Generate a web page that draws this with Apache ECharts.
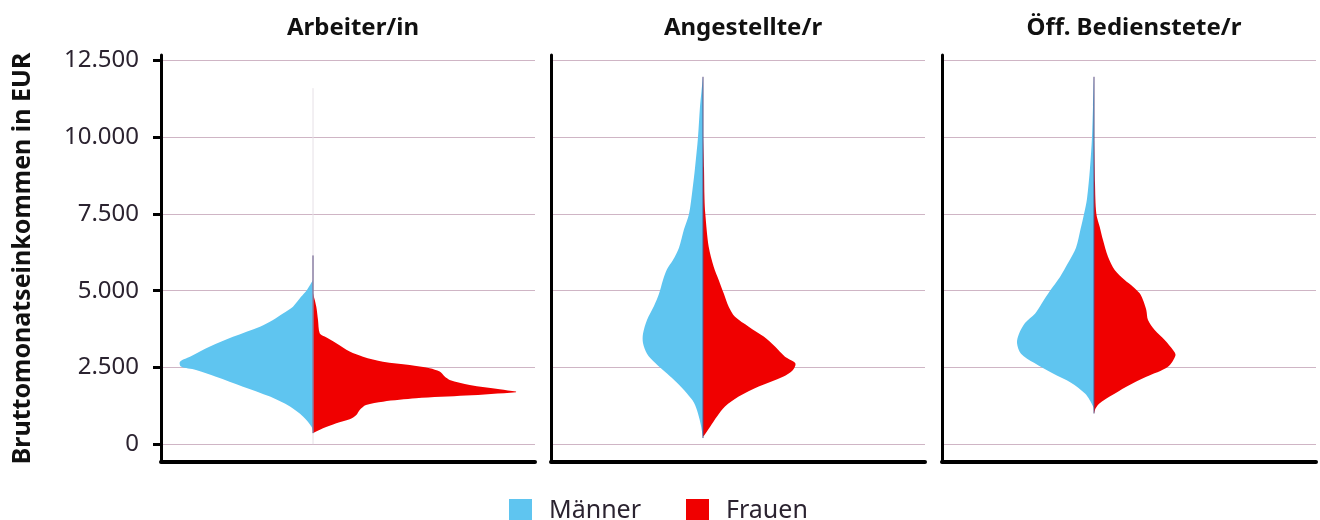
<!DOCTYPE html>
<html>
<head>
<meta charset="utf-8">
<script src="https://cdn.jsdelivr.net/npm/echarts@6.0.0/dist/echarts.min.js"></script>
<style>
html,body{margin:0;padding:0;background:#ffffff;}
#chart{width:1320px;height:520px;}
</style>
</head>
<body>
<div id="chart"></div>
<script>
// ---- data ----
const categories = ['Arbeiter/in', 'Angestellte/r', 'Öff. Bedienstete/r'];
const seriesNames = ['Männer', 'Frauen'];
const yTicks = [0, 2500, 5000, 7500, 10000, 12500];

// [Bruttomonatseinkommen EUR, half width of density]
const maennerArbeiter = [[5350,0],[5000,6.6],[4800,12],[4480,20],[4260,30],[4050,40],[3830,53],[3500,80],[3180,103],[2850,123],[2690,133],[2530,132],[2420,117],[2200,97],[1875,70],[1550,43],[1225,23],[900,10],[570,1.5],[420,0]];
const frauenArbeiter = [[4918,0],[4482,3.3],[4048,5],[3615,6.7],[3505,11.7],[3289,23.3],[3017,36.7],[2853,50],[2690,70],[2583,96.7],[2475,116.7],[2365,126.7],[2202,131.7],[2094,136.7],[1931,156.7],[1790,186.7],[1713,203],[1694,203],[1584,153],[1496,103],[1387,70],[1280,53],[1117,46.7],[954,43.3],[814,36.7],[684,23.3],[521,10],[391,1.7],[360,0]];

const maennerAngestellte = [[11970,0],[11500,1.5],[11000,3],[10000,5],[9000,8],[8300,10.5],[7500,14],[7000,19],[6400,24],[6000,30],[5700,36],[5350,40],[4900,44],[4500,49],[4050,56],[3600,60],[3300,60],[2950,56],[2650,48],[2300,36],[2000,26],[1650,16],[1350,9],[1000,5],[600,2],[200,0]];
const frauenAngestellte = [[10000,0],[9000,1],[8000,1.5],[7500,2.3],[6430,5.7],[5780,10.7],[5350,15.7],[4915,20.7],[4480,25.7],[4150,32],[3830,45.7],[3505,60.7],[3180,72],[2850,82],[2640,92.3],[2420,90],[2200,80],[1877,55.7],[1550,35.7],[1226,22],[900,14],[574,7.3],[300,1.5],[250,0]];

const maennerOeff = [[11970,0],[11000,1],[10000,2],[9000,4],[8000,7],[7500,10],[7000,13.5],[6400,18],[5900,26],[5450,34],[5000,44],[4600,52],[4250,59],[3950,69],[3600,75],[3300,77],[2950,73],[2650,60],[2300,41],[2000,23],[1650,9],[1450,4.5],[1200,0.5],[1100,0]];
const frauenOeff = [[10000,0],[8500,1],[7520,2.3],[7084,5.7],[6650,9],[6107,14],[5674,20.7],[5348,30.7],[5131,39],[4915,45.7],[4697,49],[4372,52.3],[4046,54],[3720,60.7],[3395,70.7],[3070,79],[2900,81.5],[2527,74],[2200,52.3],[1875,32.3],[1550,15.7],[1335,5.7],[1172,1.7],[1010,0]];

// vertical extent of thin centre line per panel [from, to]
const centerLineRange = [[360, 6150], [200, 11970], [1000, 11970]];

const maennerByPanel = [maennerArbeiter, maennerAngestellte, maennerOeff];
const frauenByPanel = [frauenArbeiter, frauenAngestellte, frauenOeff];

// ---- styling ----
const BLUE = '#5fc5f0';
const RED = '#f00000';
const FONT = '"Noto Sans", "Open Sans", sans-serif';
const gridLefts = [161, 551, 942];

function violinSeries(panel, name, pts, sign, color) {
  return {
    type: 'custom',
    name: name,
    xAxisIndex: panel,
    yAxisIndex: panel,
    coordinateSystem: 'cartesian2d',
    itemStyle: { color: color },
    silent: true,
    data: pts.map(p => [sign * p[1], p[0]]),
    renderItem: function (params, api) {
      if (params.dataIndex !== 0) return null;
      const line = pts.map(p => api.coord([sign * p[1], p[0]]));
      return {
        type: 'polyline',
        shape: { points: line, smooth: 0.3 },
        style: { fill: color, stroke: null, lineWidth: 0 }
      };
    },
    z: 3
  };
}

function centerSeries(panel) {
  const r = centerLineRange[panel];
  return {
    type: 'custom',
    name: 'centre' + panel,
    xAxisIndex: panel,
    yAxisIndex: panel,
    coordinateSystem: 'cartesian2d',
    silent: true,
    data: [[0, r[0]], [0, r[1]]],
    renderItem: function (params, api) {
      if (params.dataIndex !== 0) return null;
      const children = [];
      if (panel === 0) {
        const a0 = api.coord([0, 0]);
        const b0 = api.coord([0, 11600]);
        children.push({ type: 'line', shape: { x1: a0[0], y1: a0[1], x2: b0[0], y2: b0[1] },
          style: { stroke: '#e6e0e6', lineWidth: 1 } });
      }
      const a = api.coord([0, r[0]]);
      const b = api.coord([0, r[1]]);
      children.push({ type: 'line', shape: { x1: a[0], y1: a[1], x2: b[0], y2: b[1] },
        style: { stroke: '#5b4c80', lineWidth: 1 } });
      return { type: 'group', children: children };
    },
    z: 4
  };
}

const grids = [], xAxes = [], yAxes = [], titles = [], series = [];
for (let i = 0; i < 3; i++) {
  grids.push({ left: gridLefts[i], top: 55, width: 374, height: 407, containLabel: false });
  xAxes.push({
    type: 'value', gridIndex: i, min: -152, max: 222,
    axisLine: { show: true, onZero: false, lineStyle: { color: '#000', width: 4 } },
    axisTick: { show: false }, axisLabel: { show: false }, splitLine: { show: false }
  });
  yAxes.push({
    type: 'value', gridIndex: i, min: -580, max: 12680,
    name: i === 0 ? 'Bruttomonatseinkommen in EUR' : '',
    nameLocation: 'middle', nameRotate: 90, nameGap: 126,
    nameTextStyle: { fontFamily: FONT, fontSize: 25, fontWeight: 'bold', color: '#111111' },
    axisLine: { show: true, onZero: false, lineStyle: { color: '#000', width: 3 } },
    axisTick: { show: i === 0, customValues: yTicks, length: 8, lineStyle: { color: '#000', width: 3 } },
    axisLabel: {
      show: i === 0, customValues: yTicks, margin: 22,
      fontFamily: FONT, fontSize: 24, color: '#2b2330',
      formatter: v => v.toLocaleString('de-DE')
    },
    splitLine: { show: true, lineStyle: { color: '#cfb5c5', width: 1 } }
  });
  titles.push({
    text: categories[i], left: gridLefts[i] + 187, top: 11, textAlign: 'center',
    textStyle: { fontFamily: FONT, fontSize: 24, fontWeight: 'bold', color: '#111111' }
  });
  series.push(centerSeries(i));
  series.push(violinSeries(i, seriesNames[0], maennerByPanel[i], -1, BLUE));
  series.push(violinSeries(i, seriesNames[1], frauenByPanel[i], 1, RED));
}

const chart = echarts.init(document.getElementById('chart'), null, { renderer: 'canvas' });
chart.setOption({
  animation: false,
  backgroundColor: '#ffffff',
  title: titles,
  legend: {
    data: [{ name: 'Männer', itemStyle: { color: BLUE } }, { name: 'Frauen', itemStyle: { color: RED } }],
    left: 504, top: 493, icon: 'rect', itemWidth: 23, itemHeight: 23, itemGap: 45,
    selectedMode: false,
    textStyle: { fontFamily: FONT, fontSize: 25, color: '#2b2330', padding: [0, 0, 0, 12] }
  },
  grid: grids,
  xAxis: xAxes,
  yAxis: yAxes,
  series: series
});
</script>
</body>
</html>
